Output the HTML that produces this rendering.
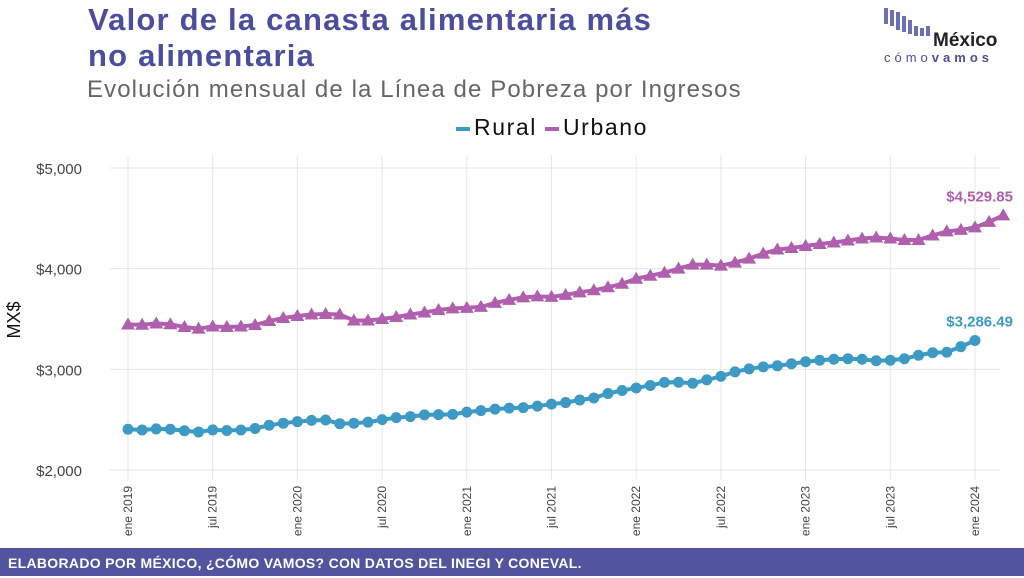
<!DOCTYPE html>
<html><head><meta charset="utf-8"><style>
body{margin:0;width:1024px;height:576px;background:#fff;font-family:"Liberation Sans","DejaVu Sans",sans-serif;overflow:hidden;position:relative}
.t{position:absolute;white-space:nowrap}
</style></head><body>
<div class="t" style="left:88px;top:2px;font-size:31px;font-weight:bold;color:#4b4e9e;line-height:36px;letter-spacing:1.2px">Valor de la canasta alimentaria más<br>no alimentaria</div>
<div class="t" style="left:87px;top:76px;font-size:24px;color:#666;letter-spacing:1.1px">Evolución mensual de la Línea de Pobreza por Ingresos</div>
<div class="t" style="left:456px;top:114px;font-size:23px;color:#111;letter-spacing:1.6px">
<span><span style="display:inline-block;width:14px;height:4px;background:#3d9ac4;vertical-align:middle;margin-right:4px"></span>Rural</span>
<span><span style="display:inline-block;width:14px;height:4px;background:#b05fae;vertical-align:middle;margin-right:4px"></span>Urbano</span></div>
<svg style="position:absolute;left:880px;top:6px" width="144" height="62">
<g fill="#6a6fb8"><rect x="4" y="2" width="4" height="16"/><rect x="10" y="4" width="4" height="16"/><rect x="16" y="6" width="4" height="18"/><rect x="22" y="10" width="4" height="16"/><rect x="28" y="14" width="4" height="14"/><rect x="34" y="20" width="4" height="10"/><rect x="40" y="22" width="4" height="8"/><rect x="46" y="20" width="4" height="10"/></g>
<text x="53" y="40" font-size="19" font-weight="bold" fill="#222" font-family="Liberation Sans">México</text>
<text x="4" y="56" font-size="13" fill="#4b4e9e" letter-spacing="4" font-family="Liberation Sans">cómo<tspan font-weight="bold">vamos</tspan></text></svg>
<svg id="c" style="position:absolute;left:0;top:0" width="1024" height="548"></svg>
<div class="t" style="left:0;top:548px;width:1024px;height:28px;background:#5354a0;color:#fff;font-weight:bold;font-size:14px;line-height:30px;padding-left:8px;letter-spacing:0.3px">ELABORADO POR MÉXICO, ¿CÓMO VAMOS? CON DATOS DEL INEGI Y CONEVAL.</div>
<script>
const rural=[2405,2397,2408,2405,2390,2378,2398,2392,2397,2412,2445,2465,
2480,2493,2497,2460,2465,2475,2500,2520,2530,2548,2550,2553,
2575,2590,2605,2615,2620,2635,2655,2670,2695,2715,2760,2790,
2815,2840,2870,2872,2862,2895,2930,2975,3005,3025,3035,3055,
3075,3090,3100,3105,3100,3085,3090,3105,3140,3165,3170,3225,3286.49];
const urbano=[3445,3443,3455,3448,3420,3405,3425,3420,3425,3440,3480,3510,
3530,3545,3550,3545,3485,3485,3500,3520,3545,3565,3590,3605,
3610,3620,3660,3690,3715,3725,3720,3740,3765,3785,3815,3850,
3900,3930,3960,4000,4040,4040,4030,4060,4100,4150,4190,4205,
4225,4245,4260,4280,4300,4310,4300,4285,4285,4330,4370,4385,4410,4465,4529.85];
const yTicks=[2000,3000,4000,5000];
const xLabels=["ene 2019","jul 2019","ene 2020","jul 2020","ene 2021","jul 2021","ene 2022","jul 2022","ene 2023","jul 2023","ene 2024"];
const svg=document.getElementById('c');const NS='http://www.w3.org/2000/svg';
const x0=128,x1=975,y0=470,y1=168;
const X=i=>x0+(x1-x0)*i/60;
const Y=v=>y0-(v-2000)/3000*(y0-y1);
function mk(t,a,p){const e=document.createElementNS(NS,t);for(const k in a)e.setAttribute(k,a[k]);(p||svg).appendChild(e);return e;}
yTicks.forEach(v=>{const l=mk('line',{x1:110,x2:1000,y1:Y(v),y2:Y(v),stroke:'#e6e6e6'});


const t=mk('text',{x:82,y:Y(v)+6,'text-anchor':'end','font-size':15,fill:'#444'});t.textContent='$'+v.toLocaleString('en-US');

});
xLabels.forEach((s,k)=>{const x=X(k*6);const l=mk('line',{x1:x,x2:x,y1:155,y2:480,stroke:'#e6e6e6'});


const t=mk('text',{x:0,y:0,transform:`translate(${x+4},486) rotate(-90)`,'text-anchor':'end','font-size':12,fill:'#444'});t.textContent=s;

});
const yt=mk('text',{x:0,y:0,transform:'translate(20,320) rotate(-90)','text-anchor':'middle','font-size':18,fill:'#111'});yt.textContent='MX$';


function series(d,c,tri,name){
const p=mk('polyline',{points:d.map((v,i)=>X(i)+','+Y(v)).join(' '),fill:'none',stroke:c,'stroke-width':4});


d.forEach((v,i)=>{const x=X(i),y=Y(v);let m;
if(tri)m=mk('polygon',{points:`${x},${y-7} ${x-7},${y+5} ${x+7},${y+5}`,fill:c});
else m=mk('circle',{cx:x,cy:y,r:5.5,fill:c});

});
const v=d[d.length-1];const t=mk('text',{x:1013,y:Y(v)-14,'text-anchor':'end','font-size':15,'font-weight':'bold',fill:c});
t.textContent='$'+v.toLocaleString('en-US',{minimumFractionDigits:2});

}
series(rural,'#3d9ac4',false,'rural');
series(urbano,'#b05fae',true,'urbano');
</script>
</body></html>
